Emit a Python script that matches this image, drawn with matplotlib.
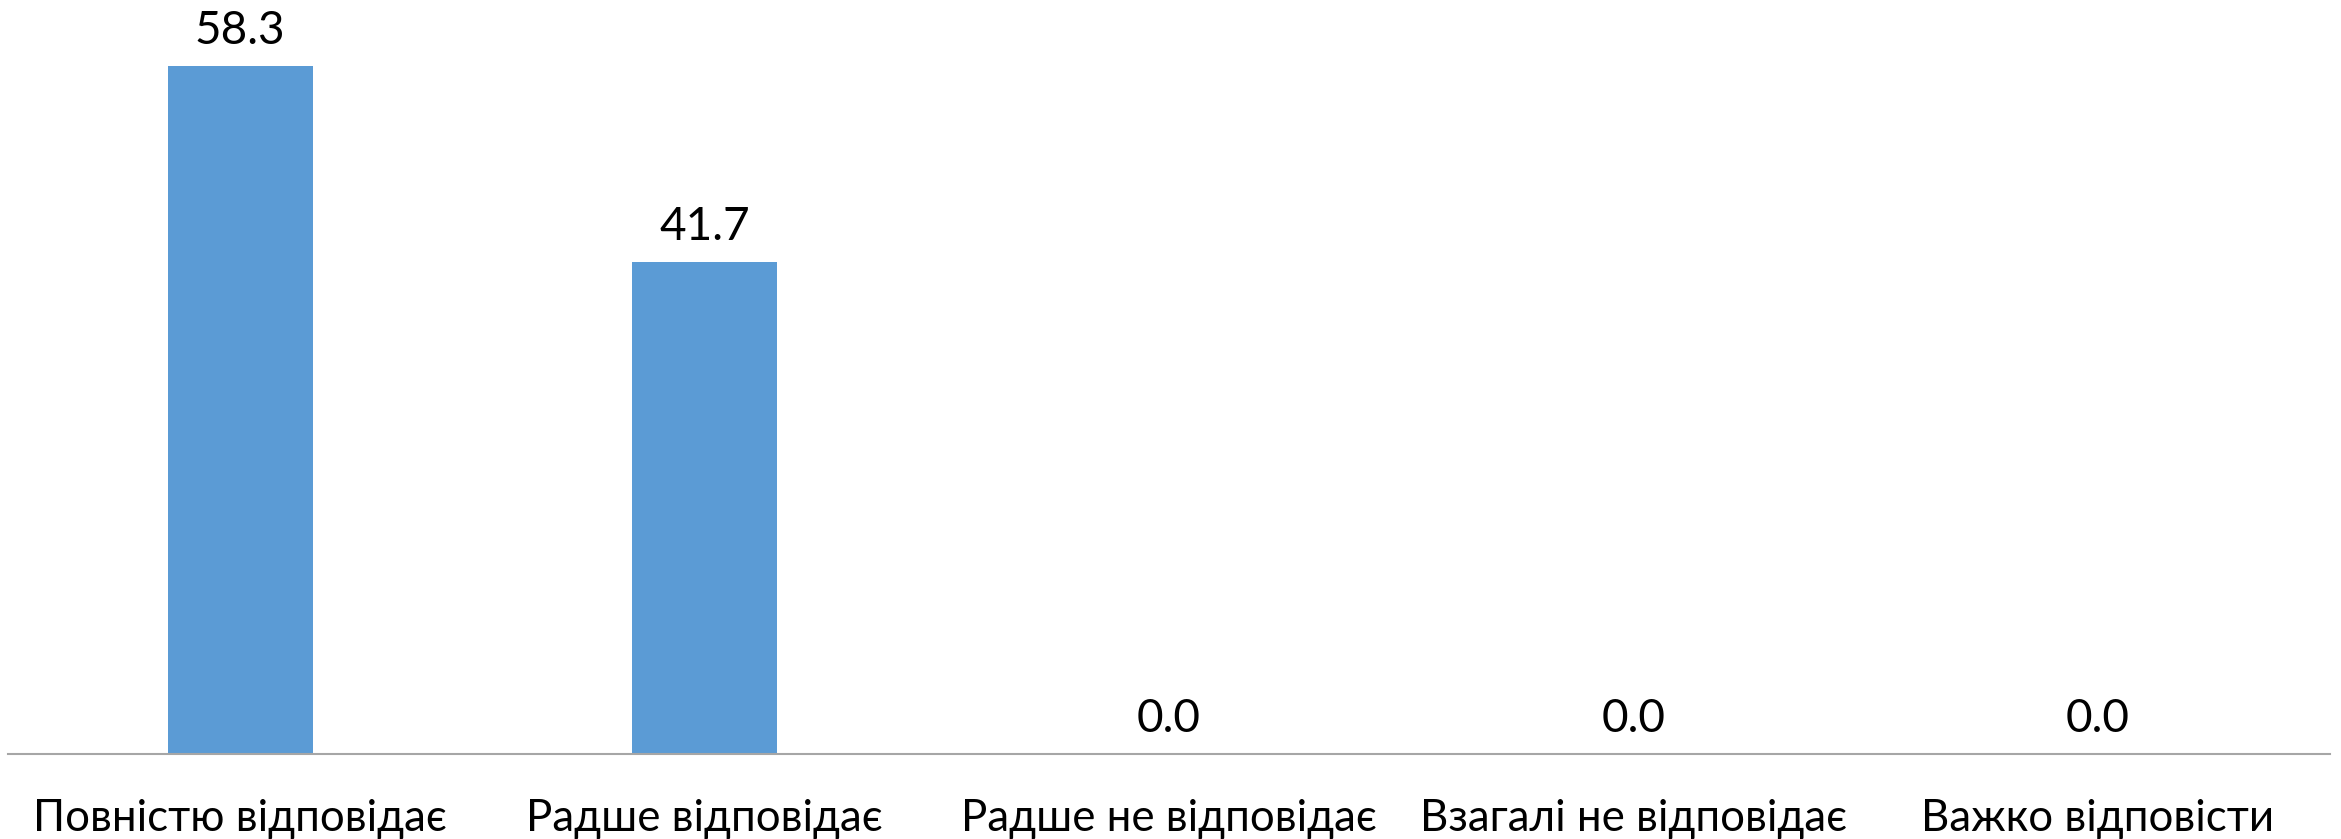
import matplotlib
matplotlib.use("Agg")
import matplotlib.pyplot as plt

# --- data ---
categories = ["Повністю відповідає", "Радше відповідає", "Радше не відповідає",
              "Взагалі не відповідає", "Важко відповісти"]
values = [58.3, 41.7, 0.0, 0.0, 0.0]

plt.rcParams["font.family"] = ["Lato", "DejaVu Sans"]

fig = plt.figure(figsize=(23.41, 8.39), dpi=100)
ax = fig.add_axes([8 / 2341, 1 - 754 / 839, (2330 - 8) / 2341, 754 / 839])

x = range(len(categories))
bars = ax.bar(x, values, width=0.312, color="#5B9BD5")

ax.set_xlim(-0.5, len(categories) - 0.5)
ax.set_ylim(0, 58.3 * 754 / 688)

# value labels above bars
for b, v in zip(bars, values):
    ax.annotate(f"{v:.1f}", (b.get_x() + b.get_width() / 2, b.get_height()),
                xytext=(0, 10), textcoords="offset points",
                ha="center", va="bottom", fontsize=33, color="black")

ax.set_xticks(list(x))
ax.set_xticklabels(categories, fontsize=31.5)
ax.tick_params(axis="x", length=0, pad=32)
ax.set_yticks([])
for side in ["top", "left", "right"]:
    ax.spines[side].set_visible(False)
ax.spines["bottom"].set_color("#A6A6A6")
ax.spines["bottom"].set_linewidth(1.5)

fig.savefig("out.png", dpi=100)
